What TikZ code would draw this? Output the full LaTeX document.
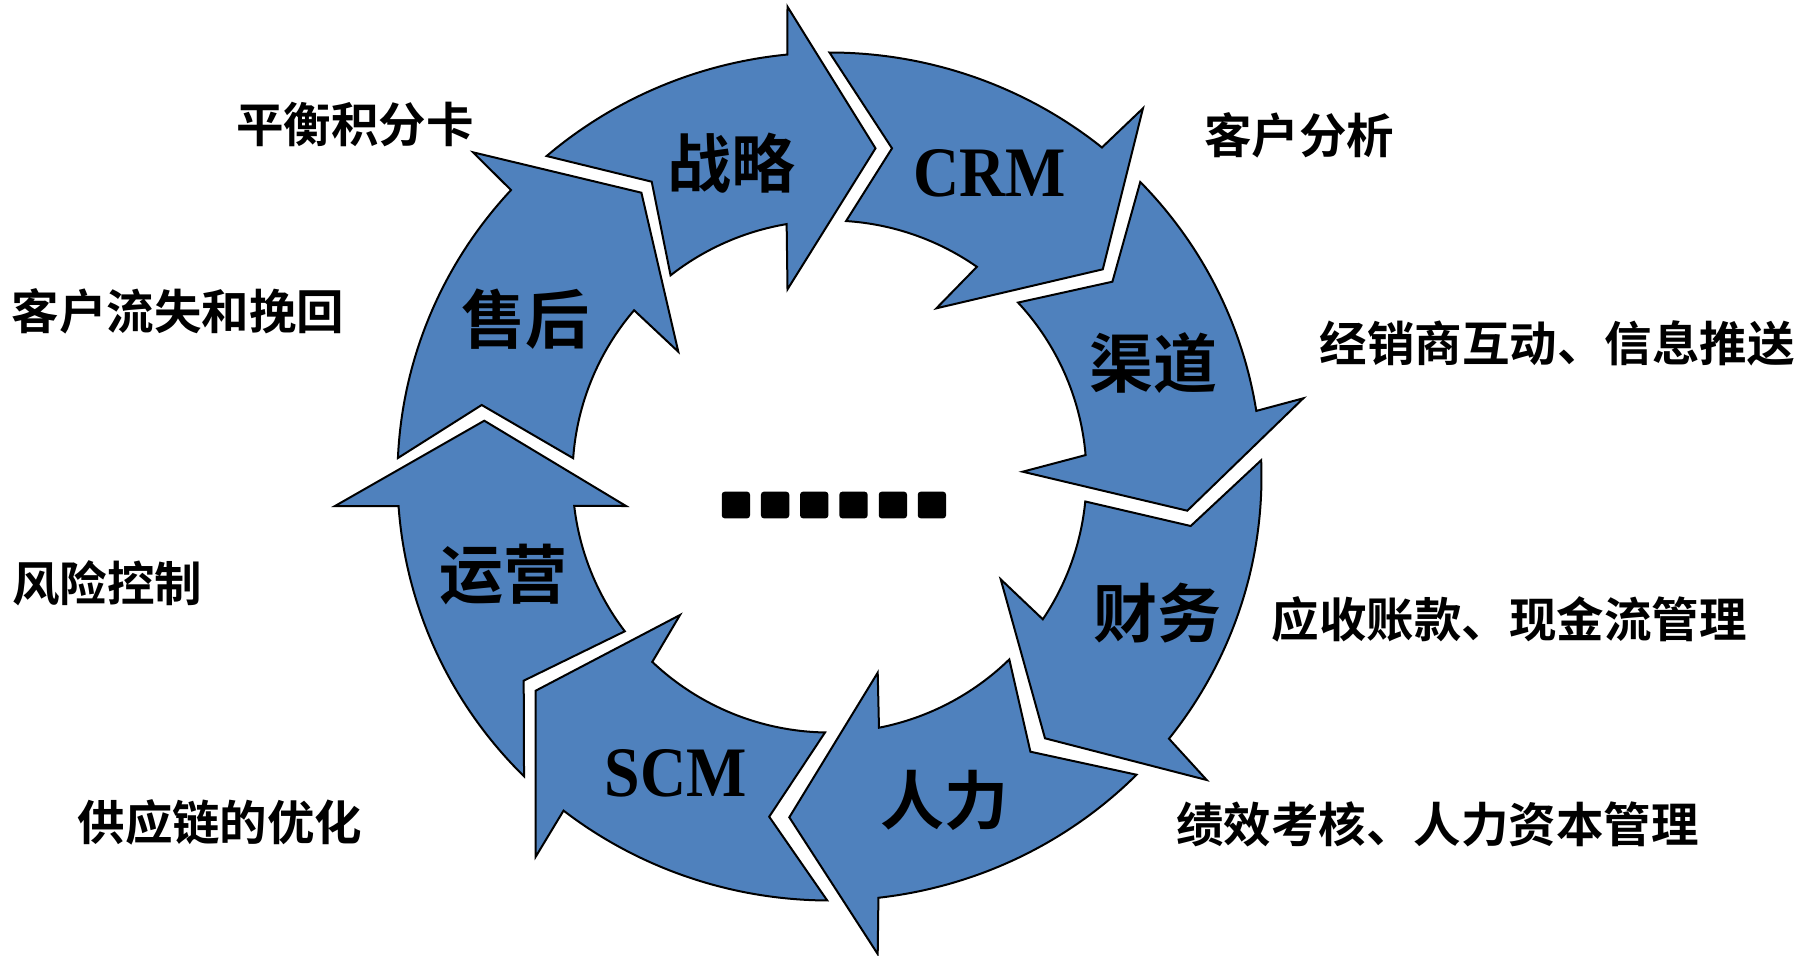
\documentclass[tikz,border=0pt]{standalone}
\usepackage{fontspec}
\usepackage{graphicx}
\setmainfont{Liberation Serif}
\newfontfamily\cjk{Noto Sans CJK SC}[BoldFont={* Bold}]
\usetikzlibrary{calc}
\definecolor{arrowblue}{RGB}{79,129,189}
\newcommand\ringarrow[8]{%
  \path[seg] ($(C)+(#1:432 and 424)$) -- #5 -- ($(C)+(#2:257 and 256)$)
    arc[start angle=#2,end angle=#3,x radius=257,y radius=256]
    -- #6 -- #7 -- #8 -- ($(C)+(#4:432 and 424)$)
    arc[start angle=#4,end angle=#1,x radius=432,y radius=424] -- cycle;}
\begin{document}
\begin{tikzpicture}[x=1pt,y=-1pt,
  seg/.style={fill=arrowblue,draw=black,line width=2pt,line join=miter},
  ringcn/.style={font=\cjk\bfseries\fontsize{64}{64}\selectfont,inner sep=0pt},
  ringen/.style={font=\bfseries\fontsize{71}{71}\selectfont,inner sep=0pt},
  outer/.style={font=\cjk\bfseries\fontsize{47.5}{48}\selectfont,inner sep=0pt},
  dot/.style={fill=black,rounded corners=3pt,minimum width=28.3pt,minimum height=26.7pt,inner sep=0pt}]
\useasboundingbox (0,0) rectangle (1808,956);
\coordinate (C) at (829.5,476.5);
% 战略
\ringarrow{229.1}{231.8}{260.4}{264.4}{(651.7,181.7)}{(787.5,289.3)}{(875.5,148.3)}{(787.5,6.7)}
% CRM
\ringarrow{270}{273.7}{305}{309.1}{(892,148.3)}{(936.4,308.3)}{(1102.8,269.3)}{(1143,108.3)}
% 渠道
\ringarrow{316}{317.2}{355.2}{351.1}{(1112.4,281.7)}{(1022.7,471.7)}{(1187.3,510.7)}{(1303.3,398.3)}
% 财务
\ringarrow{-2.2}{5.6}{33.9}{38.2}{(1190.7,526)}{(1000.7,579.3)}{(1045,738.3)}{(1206.7,780)}
% 人力
\ringarrow{44.7}{45.6}{78.9}{83.5}{(1030.4,751.7)}{(877.7,672.7)}{(789.3,817.3)}{(877.7,954)}
% SCM
\ringarrow{90.3}{91.0}{133.6}{128.0}{(769.2,816.7)}{(680,615)}{(535.7,690.7)}{(535.7,856.7)}
% 运营
\ringarrow{135}{142.8}{173.4}{176.0}{(523.7,680.7)}{(626,506)}{(484.3,420.7)}{(335,506)}
% 售后
\ringarrow{182.5}{184.1}{220.5}{222.5}{(481.7,405)}{(678.3,351.7)}{(641.4,192.7)}{(473,152.3)}

% ring labels
\node[ringcn] (l1) at (731,163) {战略};
\node[ringen] (l2) at (989.5,173) {\scalebox{0.9}[1]{CRM}};
\node[ringcn] (l3) at (1153,363) {渠道};
\node[ringcn] (l4) at (1157.5,613) {财务};
\node[ringcn] (l5) at (944,800) {人力};
\node[ringen] (l6) at (675.5,773) {\scalebox{0.9}[1]{SCM}};
\node[ringcn] (l7) at (503.5,575) {运营};
\node[ringcn] (l8) at (525.5,319) {售后};

% outer labels
\node[outer] (o1) at (355,124) {平衡积分卡};
\node[outer] (o2) at (1299,135) {客户分析};
\node[outer] (o3) at (178,311) {客户流失和挽回};
\node[outer] (o4) at (1557,343.5) {经销商互动、信息推送};
\node[outer] (o5) at (107.5,583) {风险控制};
\node[outer] (o6) at (1509,619.5) {应收账款、现金流管理};
\node[outer] (o7) at (220,822.5) {供应链的优化};
\node[outer] (o8) at (1437.5,824) {绩效考核、人力资本管理};

% dots
\node[dot] (d1) at (735.9,505) {};
\node[dot] (d2) at (775.1,505) {};
\node[dot] (d3) at (814.2,505) {};
\node[dot] (d4) at (853.5,505) {};
\node[dot] (d5) at (892.9,505) {};
\node[dot] (d6) at (931.9,505) {};
\end{tikzpicture}
\end{document}
